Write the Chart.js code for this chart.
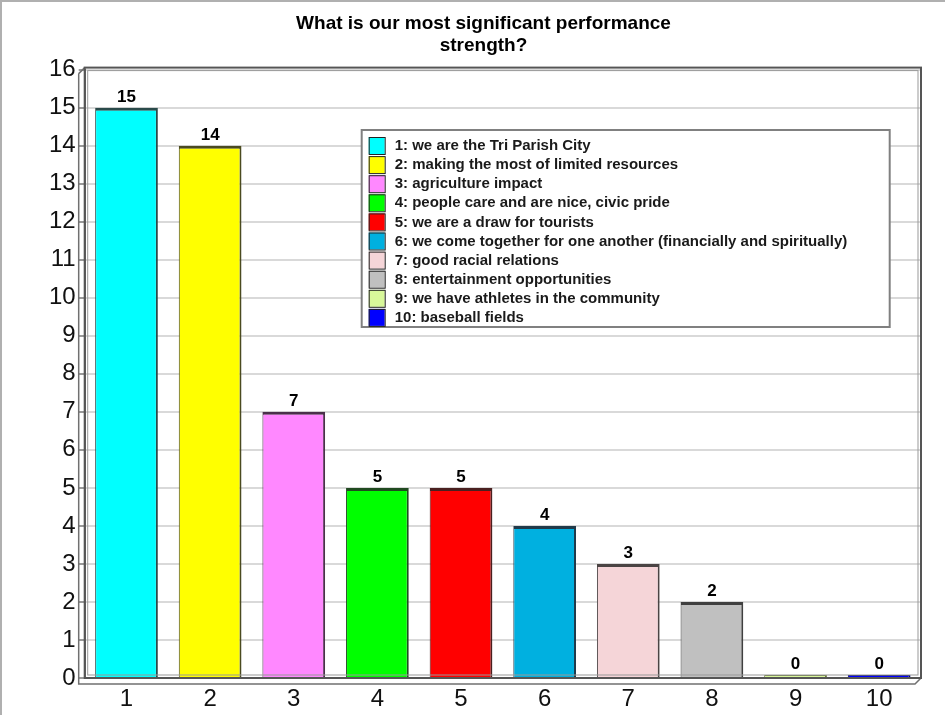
<!DOCTYPE html>
<html><head><meta charset="utf-8">
<script src="https://cdn.jsdelivr.net/npm/chart.js@4.4.0/dist/chart.umd.min.js"></script>
<style>
html,body{margin:0;padding:0;background:#fff;}
#wrap{position:absolute;left:0;top:0;width:945px;height:715px;box-sizing:border-box;border-top:2px solid #b0b0b0;border-left:2px solid #b0b0b0;}
canvas{display:block;}
</style></head>
<body><div id="wrap"><canvas id="c" width="943" height="713"></canvas></div>
<script>
const titleLines = ['What is our most significant performance', 'strength?'];
const categories = ['1','2','3','4','5','6','7','8','9','10'];
const values = [15,14,7,5,5,4,3,2,0,0];
const barColors = ['#00FFFF','#FFFF00','#FF88FF','#00FF00','#FF0000','#00B0E0','#F5D5D8','#C0C0C0','#D8F89A','#0000FF'];
const barEdgeColors = ['#2a4a4a','#4a4a20','#4a304a','#204a20','#4a2020','#203a4a','#4a4444','#404040','#6b7a3a','#00006b'];
const legendLabels = [
 '1: we are the Tri Parish City',
 '2: making the most of limited resources',
 '3: agriculture impact',
 '4: people care and are nice, civic pride',
 '5: we are a draw for tourists',
 '6: we come together for one another (financially and spiritually)',
 '7: good racial relations',
 '8: entertainment opportunities',
 '9: we have athletes in the community',
 '10: baseball fields'
];
const yMin = 0, yMax = 16, yStep = 1;

const FONT = '"Liberation Sans", Arial, sans-serif';

const framePlugin = {
  id:'frame',
  beforeDatasetsDraw(chart){
    const {ctx, chartArea:a} = chart;
    ctx.save();
    ctx.strokeStyle='#707070'; ctx.lineWidth=1.5;
    ctx.beginPath();
    ctx.moveTo(a.left-6, a.top+4); ctx.lineTo(a.left, a.top-2);
    ctx.moveTo(a.left-6, a.top+4); ctx.lineTo(a.left-6, a.bottom+6);
    ctx.lineTo(a.right-6, a.bottom+6); ctx.lineTo(a.right, a.bottom);
    ctx.stroke();
    ctx.restore();
  },
  afterDatasetsDraw(chart){
    const {ctx, chartArea:a} = chart;
    ctx.save();
    ctx.strokeStyle='#555'; ctx.lineWidth=2;
    ctx.strokeRect(a.left, a.top-2, a.right-a.left, a.bottom-a.top+2);
    ctx.strokeStyle='#999'; ctx.lineWidth=1;
    ctx.strokeRect(a.left+3, a.top+1, a.right-a.left-6, a.bottom-a.top-4);
    ctx.restore();
  }
};

const labelPlugin = {
  id:'valLabels',
  afterDatasetsDraw(chart){
    const {ctx} = chart;
    const meta = chart.getDatasetMeta(0);
    ctx.save();
    ctx.font='bold 17px ' + FONT;
    ctx.fillStyle='#000'; ctx.textAlign='center'; ctx.textBaseline='bottom';
    meta.data.forEach((bar,i)=>{
      ctx.fillText(String(values[i]), bar.x, bar.y-2);
    });
    ctx.restore();
  }
};

const legendPlugin = {
  id:'boxLegend',
  afterDraw(chart){
    const {ctx, chartArea:a} = chart;
    const x0 = a.left + 277, y0 = 128, w = 528, h = 197;
    ctx.save();
    ctx.fillStyle='#fff';
    ctx.fillRect(x0,y0,w,h);
    ctx.strokeStyle='#808080'; ctx.lineWidth=2;
    ctx.strokeRect(x0,y0,w,h);
    ctx.font='bold 15px ' + FONT;
    ctx.textBaseline='middle'; ctx.textAlign='left';
    legendLabels.forEach((t,i)=>{
      const cy = y0 + 15 + i*19.1;
      ctx.fillStyle=barColors[i];
      ctx.fillRect(x0+7, cy-8, 16, 17);
      ctx.strokeStyle='#222'; ctx.lineWidth=1;
      ctx.strokeRect(x0+7.5, cy-7.5, 16, 17);
      ctx.fillStyle='#1a1a1a';
      ctx.fillText(t, x0+33, cy+1);
    });
    ctx.restore();
  }
};

new Chart(document.getElementById('c'), {
  type:'bar',
  data:{labels:categories, datasets:[{
    data:values,
    backgroundColor:barColors,
    borderColor:barEdgeColors,
    borderWidth:{top:3,right:2,left:1,bottom:0},
    borderSkipped:false,
    minBarLength:3,
    barPercentage:0.75,
    categoryPercentage:1.0
  }]},
  options:{
    responsive:false, animation:false,
    layout:{padding:{left:44,right:24,top:0,bottom:2}},
    plugins:{
      legend:{display:false}, tooltip:{enabled:false},
      title:{display:true, text:titleLines, color:'#000',
        font:{family:FONT, size:19, weight:'bold', lineHeight:1.2},
        padding:{top:10,bottom:12}}
    },
    scales:{
      x:{
        grid:{display:false, drawTicks:true, tickLength:7},
        border:{display:true,color:'#666',width:2},
        ticks:{color:'#111', font:{family:FONT, size:24, lineHeight:1.0}, padding:2}
      },
      y:{
        min:yMin, max:yMax,
        ticks:{stepSize:yStep, color:'#111', font:{family:FONT, size:24}, padding:3},
        grid:{color:'#d9d9d9', lineWidth:2, tickLength:6, tickColor:'#999'},
        border:{display:true,color:'#666',width:2}
      }
    }
  },
  plugins:[framePlugin,labelPlugin,legendPlugin]
});
</script>
</body></html>
